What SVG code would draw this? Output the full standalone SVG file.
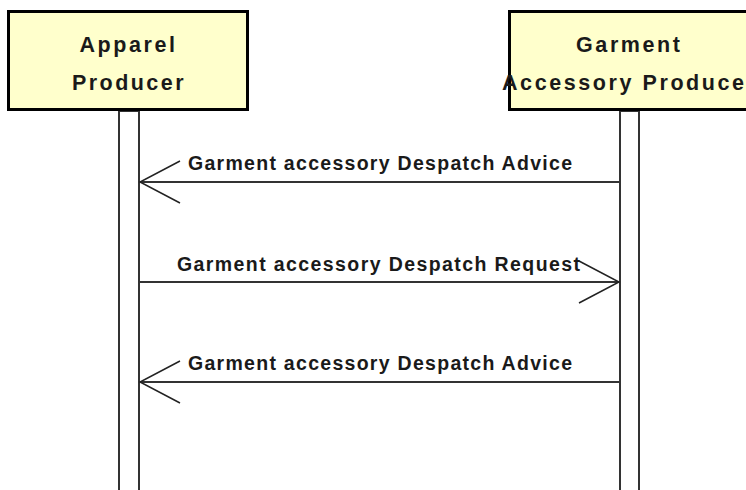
<svg xmlns="http://www.w3.org/2000/svg" width="746" height="490" viewBox="0 0 746 490">
<style>
.box{fill:#FFFFCC;stroke:#000;stroke-width:3}
.life{fill:#fff;stroke:#333;stroke-width:2}
.hdr{font-family:"Liberation Sans",Arial,sans-serif;font-weight:bold;font-size:21.5px;fill:#1a1a1a}
.lbl{font-family:"Liberation Sans",Arial,sans-serif;font-weight:bold;font-size:19.5px;fill:#1a1a1a}
.msg{stroke:#333;stroke-width:2;fill:none}
.head{stroke:#222;stroke-width:1.5;fill:none}
</style>
<rect width="746" height="490" fill="#fff"/>
<g id="apparel-producer">
<rect class="life" x="119" y="111" width="20" height="385"/>
<rect class="box" x="8.5" y="11.5" width="239" height="98"/>
<text class="hdr" x="79.5" y="52" textLength="95.5" lengthAdjust="spacing">Apparel</text>
<text class="hdr" x="72" y="90" textLength="111.5" lengthAdjust="spacing">Producer</text>
</g>
<g id="garment-accessory-producer">
<rect class="life" x="620" y="111" width="19" height="385"/>
<rect class="box" x="509.5" y="11.5" width="240" height="98"/>
<text class="hdr" x="576" y="52" textLength="104" lengthAdjust="spacing">Garment</text>
<text class="hdr" x="502" y="90" textLength="253" lengthAdjust="spacing">Accessory Producer</text>
</g>
<g id="connectors">
<g id="msg1">
<line class="msg" x1="139" y1="182" x2="620" y2="182"/>
<polyline class="head" points="180,161 140,182 180,203"/>
<text class="lbl" x="188" y="170" textLength="384" lengthAdjust="spacing">Garment accessory Despatch Advice</text>
</g>
<g id="msg2">
<line class="msg" x1="139" y1="282" x2="620" y2="282"/>
<polyline class="head" points="579,261 619,282 579,303"/>
<text class="lbl" x="177" y="271" textLength="403" lengthAdjust="spacing">Garment accessory Despatch Request</text>
</g>
<g id="msg3">
<line class="msg" x1="139" y1="382" x2="620" y2="382"/>
<polyline class="head" points="180,361 140,382 180,403"/>
<text class="lbl" x="188" y="370" textLength="384" lengthAdjust="spacing">Garment accessory Despatch Advice</text>
</g>
</g>
</svg>
